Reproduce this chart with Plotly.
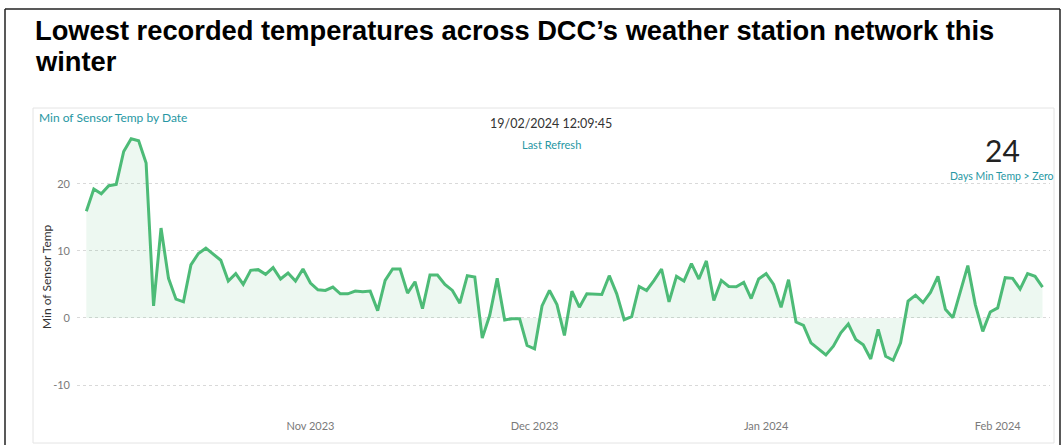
import pandas as pd
import plotly.graph_objects as go

# ---------------- data ----------------
start_date = "2023-10-02"
min_temps = [
    15.9, 19.2, 18.5, 19.7, 19.9, 24.8, 26.7, 26.4, 23.1, 1.8,
    13.4, 5.9, 2.8, 2.4, 7.9, 9.6, 10.4, 9.5, 8.6, 5.5,
    6.6, 5.0, 7.1, 7.2, 6.5, 7.5, 5.8, 6.7, 5.5, 7.3,
    5.2, 4.2, 4.1, 4.6, 3.6, 3.6, 4.0, 3.9, 4.0, 1.1,
    5.6, 7.3, 7.3, 3.7, 5.4, 1.4, 6.4, 6.4, 5.0, 4.1,
    2.2, 6.3, 6.1, -3.0, 0.4, 5.9, -0.3, -0.1, -0.1, -4.1,
    -4.6, 1.8, 4.1, 2.0, -2.6, 4.0, 1.6, 3.6, 3.5, 3.5,
    6.3, 3.6, -0.25, 0.2, 4.7, 4.1, 5.6, 7.3, 2.4, 6.2,
    5.5, 8.1, 5.8, 8.5, 2.6, 5.6, 4.7, 4.65, 5.3, 2.9,
    5.8, 6.6, 5.0, 1.6, 5.7, -0.6, -1.1, -3.7, -4.6, -5.5,
    -4.2, -2.2, -0.9, -3.2, -4.0, -6.1, -1.7, -5.7, -6.3, -3.7,
    2.5, 3.4, 2.3, 3.8, 6.2, 1.3, 0.05, 4.0, 7.8, 2.0,
    -2.0, 0.9, 1.5, 6.0, 5.9, 4.3, 6.6, 6.2, 4.6,
]
dates = pd.date_range(start_date, periods=len(min_temps), freq="D")

x_tick_vals = ["2023-11-01", "2023-12-01", "2024-01-01", "2024-02-01"]
x_tick_text = ["Nov 2023", "Dec 2023", "Jan 2024", "Feb 2024"]
y_tick_vals = [-10, 0, 10, 20]
y_tick_text = ["-10", "0", "10", "20"]

title_line1 = "Lowest recorded temperatures across DCC\u2019s weather station network this"
title_line2 = "winter"
visual_title = "Min of Sensor Temp by Date"
refresh_time = "19/02/2024 12:09:45"
refresh_label = "Last Refresh"
kpi_value = "24"
kpi_label = "Days Min Temp > Zero"
y_title = "Min of Sensor Temp"

# ---------------- layout geometry (pixels) ----------------
W_FIG, H_FIG = 1063, 445
L, R, T, B = 77, 1050, 128, 418


def px(x):
    return (x - L) / (R - L)


def py(y):
    return (B - y) / (B - T)


TEAL = "#2797a3"
GREEN = "#4dbb77"
UI_FONT = "Lato, 'Noto Sans', sans-serif"
TITLE_FONT = "Liberation Sans, Arial, sans-serif"

fig = go.Figure()
fig.add_trace(
    go.Scatter(
        x=dates,
        y=min_temps,
        mode="lines",
        line=dict(color=GREEN, width=3),
        fill="tozeroy",
        fillcolor="rgba(77,187,119,0.10)",
        hoverinfo="x+y",
    )
)

x_start = pd.Timestamp(dates[0]) - pd.Timedelta(hours=30)
x_end = pd.Timestamp(dates[-1]) + pd.Timedelta(hours=24)

fig.update_layout(
    width=W_FIG,
    height=H_FIG,
    margin=dict(l=L, r=W_FIG - R, t=T, b=H_FIG - B),
    paper_bgcolor="white",
    plot_bgcolor="white",
    showlegend=False,
    xaxis=dict(
        range=[x_start, x_end],
        tickvals=x_tick_vals,
        ticktext=x_tick_text,
        showgrid=False,
        zeroline=False,
        showline=False,
        ticks="",
        tickfont=dict(family=UI_FONT, size=11, color="#7a7a7a"),
    ),
    yaxis=dict(
        range=[-14.9, 28.3],
        tickvals=y_tick_vals,
        ticktext=y_tick_text,
        showgrid=True,
        gridcolor="#d9d9d9",
        griddash="dot",
        gridwidth=1,
        zeroline=False,
        showline=False,
        ticks="",
        ticklabelstandoff=6,
        tickfont=dict(family=UI_FONT, size=11, color="#7a7a7a"),
    ),
)

shapes = [
    # outer frame
    dict(type="line", xref="paper", yref="paper", x0=px(5), x1=px(5), y0=py(9), y1=py(460),
         line=dict(color="#222222", width=1.5)),
    dict(type="line", xref="paper", yref="paper", x0=px(5), x1=px(1060), y0=py(9), y1=py(9),
         line=dict(color="#222222", width=1.5)),
    dict(type="line", xref="paper", yref="paper", x0=px(1060), x1=px(1060), y0=py(9), y1=py(460),
         line=dict(color="#222222", width=1.5)),
    # visual card border
    dict(type="rect", xref="paper", yref="paper", x0=px(33), x1=px(1054), y0=py(108), y1=py(443),
         line=dict(color="#e4e4e4", width=1), fillcolor="rgba(0,0,0,0)", layer="below"),
]
fig.update_layout(shapes=shapes)

annotations = [
    dict(text="<b>" + title_line1 + "</b>", x=px(33), y=py(30), xanchor="left", yanchor="middle",
         font=dict(family=TITLE_FONT, size=27.3, color="black"),
         showarrow=False, xref="paper", yref="paper"),
    dict(text="<b>" + title_line2 + "</b>", x=px(33), y=py(61), xanchor="left", yanchor="middle",
         font=dict(family=TITLE_FONT, size=27.3, color="black"),
         showarrow=False, xref="paper", yref="paper"),
    dict(text=visual_title, x=px(37), y=py(118), xanchor="left", yanchor="middle",
         font=dict(family=UI_FONT, size=12, color=TEAL), showarrow=False, xref="paper", yref="paper"),
    dict(text=refresh_time, x=px(551), y=py(124), xanchor="center", yanchor="middle",
         font=dict(family=UI_FONT, size=12.5, color="#333333"), showarrow=False, xref="paper", yref="paper"),
    dict(text=refresh_label, x=px(551), y=py(144), xanchor="center", yanchor="middle",
         font=dict(family=UI_FONT, size=11, color=TEAL), showarrow=False, xref="paper", yref="paper"),
    dict(text=kpi_value, x=px(1002), y=py(150), xanchor="center", yanchor="middle",
         font=dict(family=UI_FONT, size=30, color="#222222"), showarrow=False, xref="paper", yref="paper"),
    dict(text=kpi_label, x=px(1002), y=py(176), xanchor="center", yanchor="middle",
         font=dict(family=UI_FONT, size=10.5, color=TEAL), showarrow=False, xref="paper", yref="paper"),
    dict(text=y_title, x=px(46), y=py(277), xanchor="center", yanchor="middle", textangle=-90,
         font=dict(family=UI_FONT, size=12, color="#333333"), showarrow=False, xref="paper", yref="paper"),
]
fig.update_layout(annotations=annotations)

fig.write_html("out.html")
